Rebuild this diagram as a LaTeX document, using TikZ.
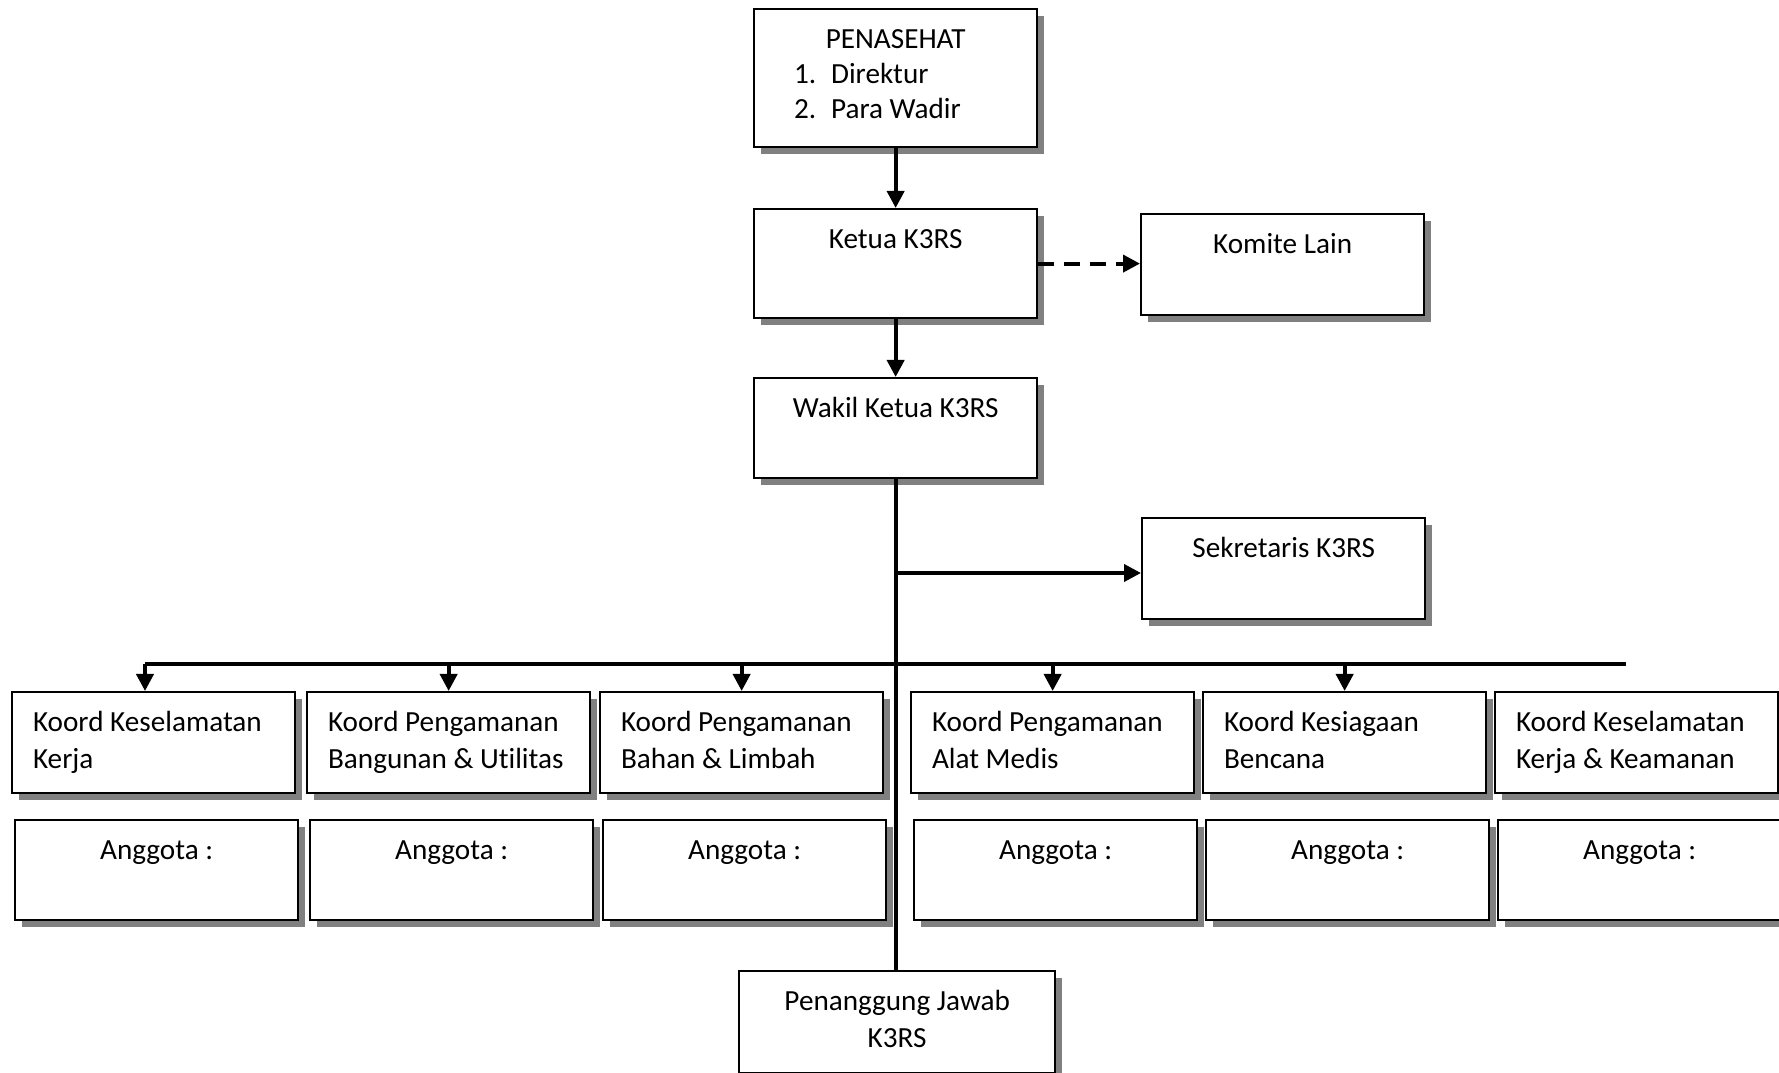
\documentclass[tikz,border=0pt]{standalone}
\usepackage{fontspec}
\setmainfont[Ligatures=NoCommon]{Carlito}
\usetikzlibrary{positioning}
\usetikzlibrary{arrows.meta}
\usetikzlibrary{shadows}

% isi kotak: lebar, tinggi, perataan, teks
\newcommand{\isi}[4]{\parbox[c][#2][t]{#1}{#3\rule{0pt}{0.39cm}#4}}

\tikzset{
  kotak/.style={draw, fill=white, line width=0.6pt, inner sep=0pt, anchor=north west,
    drop shadow={shadow xshift=0.07cm, shadow yshift=-0.07cm, fill=black!50, opacity=1}},
  garis/.style={line width=1.1pt},
  panah/.style={garis, -{Triangle[length=1.7mm,width=1.7mm]}},
  putus/.style={dash pattern=on 1.6mm off 1.0mm}
}

\begin{document}
\begin{tikzpicture}[x=0.01cm, y=-0.01cm, font=\fontsize{8.3}{10.7}\selectfont]
  \useasboundingbox (0,0) rectangle (1779,1073);

  % pimpinan
  \node[kotak, font=\fontsize{8.3}{10}\selectfont] (penasehat) at (753,8)
    {\isi{2.83cm}{1.38cm}{\centering}{PENASEHAT\par
      \raggedright\leftskip=0.40cm \makebox[0.37cm][l]{1.}Direktur\\
      \makebox[0.37cm][l]{2.}Para Wadir}};
  \node[kotak] (ketua) at (753,208) {\isi{2.83cm}{1.09cm}{\centering}{Ketua K3RS}};
  \node[kotak] (komite) at (1140,213) {\isi{2.83cm}{1.01cm}{\centering}{Komite Lain}};
  \node[kotak] (wakil) at (753,377) {\isi{2.83cm}{1.00cm}{\centering}{Wakil Ketua K3RS}};
  \node[kotak] (sekretaris) at (1141,517) {\isi{2.83cm}{1.01cm}{\centering}{Sekretaris K3RS}};

  % koordinator dan anggota
  \foreach \i/\x/\teks in {1/11/{Koord Keselamatan\\Kerja},
                           2/306/{Koord Pengamanan\\Bangunan \& Utilitas},
                           3/599/{Koord Pengamanan\\Bahan \& Limbah},
                           4/910/{Koord Pengamanan\\Alat Medis},
                           5/1202/{Koord Kesiagaan\\Bencana},
                           6/1494/{Koord Keselamatan\\Kerja \& Keamanan}}
    {\node[kotak] (koord\i) at (\x,691) {\isi{2.83cm}{1.01cm}{\raggedright\leftskip=0.21cm}{\teks}};
     \node[kotak] (anggota\i) at (\x+3,819) {\isi{2.83cm}{1.00cm}{\centering}{Anggota :}};}

  \node[kotak] (pj) at (738,970) {\isi{3.16cm}{1.02cm}{\centering}{Penanggung Jawab\\K3RS}};

  % garis
  \draw[panah] (penasehat) -- (ketua);
  \draw[panah, putus] (ketua.east) -- (ketua.east -| komite.west);
  \draw[panah] (ketua) -- (wakil);
  \draw[garis] (wakil.south) -- (wakil.south |- pj.north);
  \coordinate (cabang) at (wakil.south |- 0,573);
  \draw[panah] (cabang) -- (cabang -| sekretaris.west);

  \coordinate (busKiri) at (145,664);
  \coordinate (busKanan) at (1626,664);
  \draw[garis] (busKiri) -- (busKanan);
  \draw[panah] (busKiri) -- (busKiri |- koord1.north);
  \foreach \i in {2,...,5}
    \draw[panah] (koord\i.north |- busKiri) -- (koord\i.north);
\end{tikzpicture}
\end{document}
